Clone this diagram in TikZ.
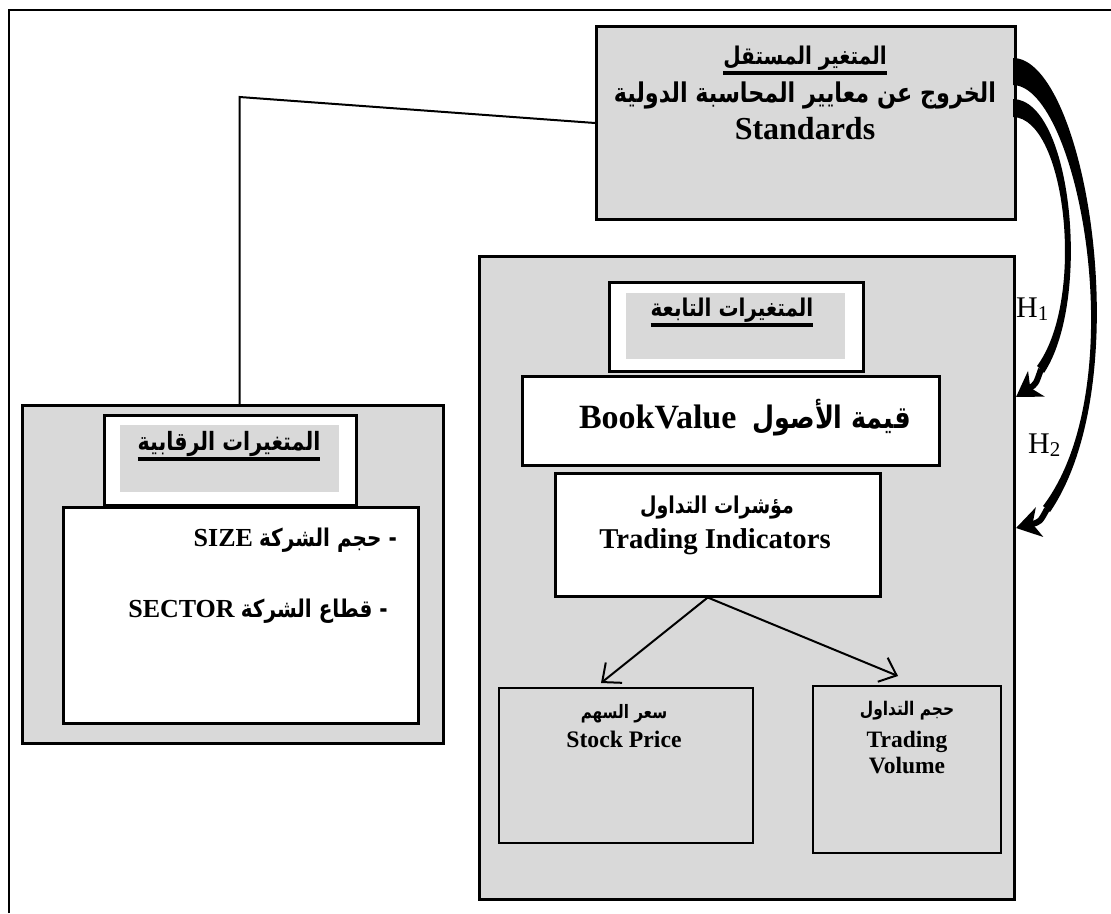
\documentclass[tikz,border=0pt]{standalone}
\usepackage{fontspec}
\setmainfont{Liberation Serif}
\newfontfamily\arabicfont[Script=Arabic, FakeStretch=0.82]{DejaVu Sans}
\TeXXeTstate=1
\usetikzlibrary{arrows.meta, positioning, calc}
\definecolor{BoxGray}{RGB}{217,217,217}
\newcommand{\artext}[1]{{\arabicfont\bfseries\beginR #1\endR}}
\newcommand{\heavyul}[1]{\setbox0=\hbox{#1}\dp0=0pt\vtop{\box0\kern7pt\hrule height 3.5pt}}
\newcommand{\setfs}[1]{\fontsize{#1}{#1}\selectfont}

\begin{document}
\begin{tikzpicture}[x=1pt, y=-1pt,
	frame/.style={line width=2pt},
	graybox/.style={draw, line width=3pt, fill=BoxGray, anchor=north west, inner sep=0pt},
	whitebox/.style={draw, line width=2.5pt, fill=white, anchor=north west, inner sep=0pt},
	thinbox/.style={draw, line width=2pt, anchor=north west, inner sep=0pt},
	patch/.style={fill=BoxGray, anchor=north west, inner sep=0pt},
	lbl/.style={anchor=base, inner sep=0pt},
	link/.style={line width=2pt},
	branch/.style={line width=2pt, -{Straight Barb[length=15pt, width=26pt]}},
	band/.style={fill=black},
	bighead/.style={line width=6pt, -{Stealth[length=24pt, width=30pt, inset=7pt]}}]

	\useasboundingbox (0,0) rectangle (1111,913);
	\draw[frame] (9,913) -- (9,10) -- (1111,10);

	% boxes
	\node[graybox, minimum width=419pt, minimum height=193pt] (indep) at (595,25) {};
	\node[graybox, minimum width=535pt, minimum height=643pt] (dep) at (478,255) {};
	\node[graybox, minimum width=421pt, minimum height=338pt] (ctrl) at (21,404) {};

	\node[whitebox, minimum width=355pt, minimum height=216pt] (ctrlbody) at (62,506) {};
	\node[whitebox, minimum width=252pt, minimum height=90pt] (ctrlhead) at (103,414) {};
	\node[patch, minimum width=219pt, minimum height=67pt] (ctrlpatch) at (120,425) {};

	\node[whitebox, minimum width=254pt, minimum height=89pt] (dephead) at (608,281) {};
	\node[patch, minimum width=219pt, minimum height=66pt] (deppatch) at (626,293) {};
	\node[whitebox, minimum width=417pt, minimum height=89pt] (book) at (521,375) {};
	\node[whitebox, minimum width=325pt, minimum height=123pt] (trind) at (554,472) {};
	\node[thinbox, minimum width=254pt, minimum height=155pt] (price) at (498,687) {};
	\node[thinbox, minimum width=188pt, minimum height=167pt] (volume) at (812,685) {};

	% texts
	\node[lbl] (indeptitle) at (805,64) {\setfs{24.4}\heavyul{\artext{المتغير المستقل}}};
	\node[lbl] (indepname) at (805,102) {\setfs{27.2}\artext{الخروج عن معايير المحاسبة الدولية}};
	\node[lbl] (indepeng) at (805,139) {\setfs{32}\bfseries Standards};

	\node[lbl] (deptitle) at (732,316) {\setfs{24.4}\heavyul{\artext{المتغيرات التابعة}}};
	\node[lbl] (booktxt) at (745,428) {\setfs{31}\beginR{\arabicfont\bfseries قيمة الأصول}\hspace{16pt}\beginL{\setfs{34}\bfseries BookValue}\endL\endR};
	\node[lbl] (trindar) at (717,513) {\setfs{23.2}\artext{مؤشرات التداول}};
	\node[lbl] (trinden) at (715,548) {\setfs{28.7}\bfseries Trading Indicators};
	\node[lbl] (pricear) at (624,718) {\setfs{18.5}\artext{سعر السهم}};
	\node[lbl] (priceen) at (624,747) {\setfs{23.7}\bfseries Stock Price};
	\node[lbl] (volar) at (907,715) {\setfs{18.8}\artext{حجم التداول}};
	\node[lbl] (volen) at (907,747) {\setfs{23.5}\bfseries Trading};
	\node[lbl] (volentwo) at (907,773) {\setfs{23.5}\bfseries Volume};

	\node[lbl] (ctrltitle) at (229,450) {\setfs{25.2}\heavyul{\artext{المتغيرات الرقابية}}};
	\node[lbl, anchor=base east] (sizeitem) at (397,546) {\setfs{24.4}\beginR{\arabicfont\bfseries - حجم الشركة}\ \beginL{\setfs{26}\bfseries SIZE}\endL\endR};
	\node[lbl, anchor=base east] (sectoritem) at (388,617) {\setfs{24.4}\beginR{\arabicfont\bfseries - قطاع الشركة}\ \beginL{\setfs{26}\bfseries SECTOR}\endL\endR};

	\node[lbl, anchor=base west] (hone) at (1016,317) {\setfs{30}H\raisebox{-3pt}{\setfs{21}1}};
	\node[lbl, anchor=base west] (htwo) at (1028,453) {\setfs{30}H\raisebox{-3pt}{\setfs{21}2}};

	% connectors
	\draw[link] ([xshift=6.5pt]ctrl.north) -- ++(0,-307) -- (indep.west);
	\draw[branch] ([xshift=-10pt]trind.south) -- ([xshift=-25pt, yshift=4pt]price.north);
	\draw[branch] ([xshift=-10pt]trind.south) -- ([xshift=-9pt, yshift=9pt]volume.north);

	% curved arrows H1, H2
	\fill[band] (1013,99) .. controls (1072,100) and (1092,300) .. (1044,373)
		-- (1037,366) .. controls (1086,300) and (1066,118) .. (1013,117) -- cycle;
	\draw[bighead] (1041,369) .. controls (1036,384) .. (1016,397);
	\fill[band] (1013,58) .. controls (1085,58) and (1140,380) .. (1050,512)
		-- (1043,506) .. controls (1135,385) and (1078,86) .. (1013,85) -- cycle;
	\draw[bighead] (1047,509) .. controls (1040,522) .. (1016,528);
\end{tikzpicture}
\end{document}
